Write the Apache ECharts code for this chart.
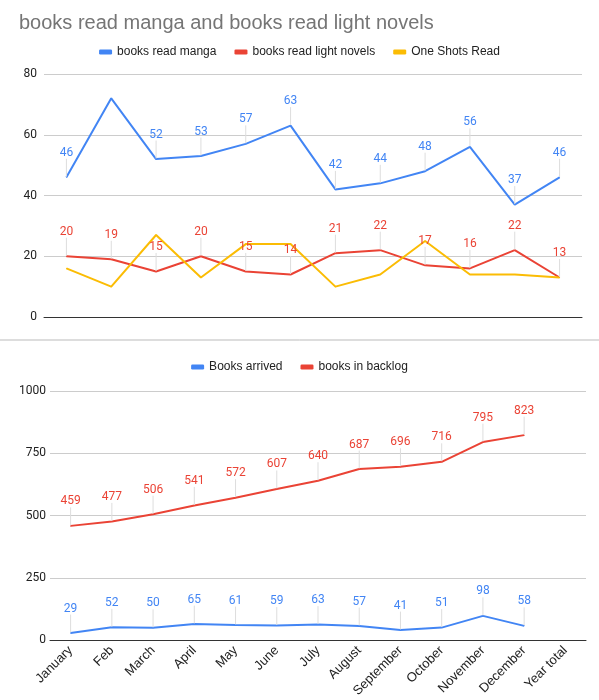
<!DOCTYPE html>
<html><head><meta charset="utf-8">
<script src="https://cdn.jsdelivr.net/npm/echarts@6/dist/echarts.min.js"></script>
<style>html,body{margin:0;padding:0;background:#fff}#c{width:599px;height:700px}</style>
</head><body><div id="c"></div>
<script>
const topMonths = ['January','Feb','March','April','May','June','July','August','September','October','November','December'];
const bottomCategories = ['January','Feb','March','April','May','June','July','August','September','October','November','December','Year total'];
const mangaRead = [46,72,52,53,57,63,42,44,48,56,37,46];
const lightNovelsRead = [20,19,15,20,15,14,21,22,17,16,22,13];
const oneShotsRead = [16,10,27,13,24,24,10,14,25,14,14,13];
const booksArrived = [29,52,50,65,61,59,63,57,41,51,98,58,null];
const booksBacklog = [459,477,506,541,572,607,640,687,696,716,795,823,null];
const hiddenMangaLabels = ['Feb'];

const FONT = 'Roboto, Arial, sans-serif';
const SANS = '"Liberation Sans", Arial, sans-serif';
const BLUE = '#4285F4', RED = '#EA4335', YEL = '#FBBC04';

function lineSeries(name, data, color, xi, showLabel, hideFn) {
  return {
    name, type: 'line', xAxisIndex: xi, yAxisIndex: xi,
    data: data.map((v, i) => (hideFn && hideFn(i)) ? {value: v, label: {show: false}, labelLine:{show:false}} : v),
    symbol: 'circle', symbolSize: 1, showSymbol: true,
    itemStyle: {color}, lineStyle: {color, width: 2},
    label: showLabel ? {show: true, position: 'top', distance: 2, color, fontSize: 12, fontFamily: FONT} : {show: false},
    labelLayout: showLabel ? {dy: -16} : undefined,
    labelLine: showLabel ? {show: true, lineStyle: {color: '#dddddd', width: 1}} : undefined,
    emphasis: {disabled: true}, animation: false
  };
}

const chart = echarts.init(document.getElementById('c'));
chart.setOption({
  backgroundColor: '#fff',
  animation: false,
  title: {text: 'books read manga and books read light novels', left: 14, top: 8,
    textStyle: {color: '#757575', fontSize: 20, fontWeight: 'normal', fontFamily: SANS}},
  legend: [
    {data: ['books read manga','books read light novels','One Shots Read'], top: 41, left: 'center',
      icon: 'roundRect', itemWidth: 13, itemHeight: 5, itemGap: 18,
      textStyle: {color: '#222', fontSize: 12, fontFamily: SANS}},
    {data: ['Books arrived','books in backlog'], top: 356, left: 'center',
      icon: 'roundRect', itemWidth: 13, itemHeight: 5, itemGap: 18,
      textStyle: {color: '#222', fontSize: 12, fontFamily: SANS}}
  ],
  graphic: [{type: 'line', shape: {x1: 0, y1: 340, x2: 599, y2: 340}, style: {stroke: '#bbbbbb', lineWidth: 1}}],
  grid: [
    {left: 44, right: 17, top: 74, height: 243},
    {left: 50, right: 13, top: 391, height: 250}
  ],
  xAxis: [
    {type: 'category', gridIndex: 0, data: topMonths, boundaryGap: true,
      axisLine: {lineStyle: {color: '#333', width: 1}}, axisTick: {show: false}, axisLabel: {show: false}},
    {type: 'category', gridIndex: 1, data: bottomCategories, boundaryGap: true,
      axisLine: {lineStyle: {color: '#333', width: 1}}, axisTick: {show: false},
      axisLabel: {rotate: 45, interval: 0, color: '#222', fontSize: 13, fontFamily: SANS, margin: 8}}
  ],
  yAxis: [
    {type: 'value', gridIndex: 0, min: 0, max: 80, interval: 20,
      axisLine: {show: false}, axisTick: {show: false},
      axisLabel: {color: '#222', fontSize: 12, fontFamily: FONT, margin: 7},
      splitLine: {lineStyle: {color: '#cccccc'}}},
    {type: 'value', gridIndex: 1, min: 0, max: 1000, interval: 250,
      axisLine: {show: false}, axisTick: {show: false},
      axisLabel: {color: '#222', fontSize: 12, fontFamily: FONT, margin: 4, formatter: v => String(v)},
      splitLine: {lineStyle: {color: '#cccccc'}}}
  ],
  series: [
    lineSeries('books read manga', mangaRead, BLUE, 0, true, i => hiddenMangaLabels.includes(topMonths[i])),
    lineSeries('books read light novels', lightNovelsRead, RED, 0, true),
    lineSeries('One Shots Read', oneShotsRead, YEL, 0, false),
    lineSeries('Books arrived', booksArrived, BLUE, 1, true),
    lineSeries('books in backlog', booksBacklog, RED, 1, true)
  ]
});
</script></body></html>
